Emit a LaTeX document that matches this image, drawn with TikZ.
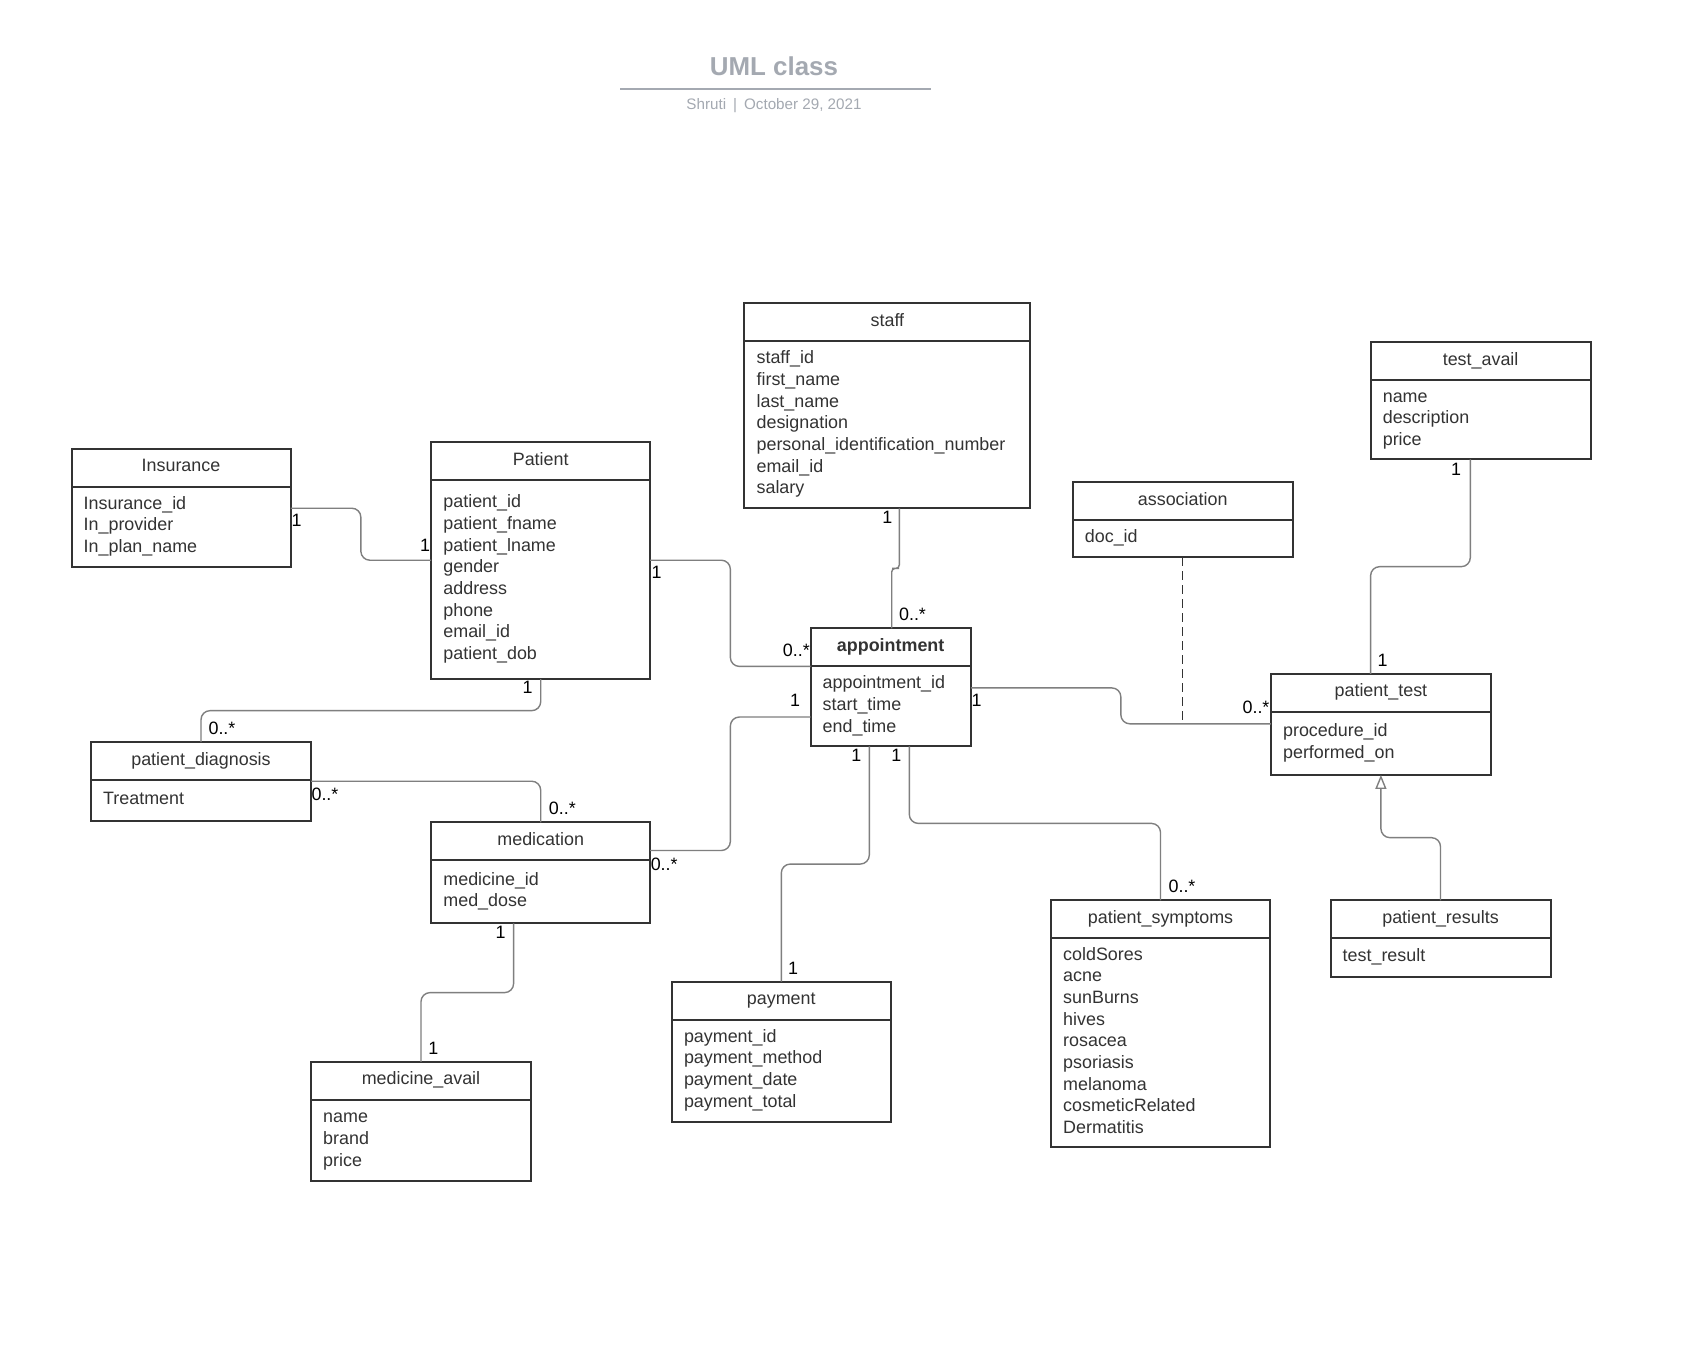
\documentclass[tikz,border=0pt]{standalone}
\usepackage{fontspec}
\setmainfont{Liberation Sans}
\usetikzlibrary{calc,arrows.meta}

\definecolor{boxgray}{HTML}{333333}
\definecolor{linkgray}{HTML}{7F7F7F}
\definecolor{headgray}{HTML}{A4A9B1}

\newcommand{\bodyfont}{\fontsize{17.9}{21.67}\selectfont}

\tikzset{
  classbox/.style={draw=boxgray, line width=2pt, inner sep=0pt, outer sep=0pt, rectangle},
  divider/.style={draw=boxgray, line width=2pt},
  classtitle/.style={text=boxgray, font=\bodyfont, inner sep=0pt, anchor=base},
  classattrs/.style={text=boxgray, font=\bodyfont, align=left, inner sep=0pt, anchor=north west},
  conn/.style={draw=linkgray, line width=1.4pt, rounded corners=9pt},
  assocline/.style={draw=boxgray, line width=1.3pt, dash pattern=on 9pt off 5pt},
  mult/.style={text=black, font=\bodyfont, inner sep=0pt, text height=12.8pt, text depth=0pt},
  doctitle/.style={text=headgray, font=\fontsize{25.9}{30}\selectfont\bfseries, inner sep=0pt},
  docsub/.style={text=headgray, font=\fontsize{15.2}{18}\selectfont, inner sep=0pt},
  headrule/.style={draw=headgray, line width=1.8pt},
  hvh/.style={to path={-| ($(\tikztostart)!0.5!(\tikztotarget)$) |- (\tikztotarget)}},
  vhv/.style={to path={|- ($(\tikztostart)!0.5!(\tikztotarget)$) -| (\tikztotarget)}},
}

% class box: name, left, top, width, height, number of attribute lines, title, attributes
\newcommand{\umlclass}[8]{%
  \node[classbox, minimum width=#4pt, minimum height=#5pt, anchor=north west] (#1) at (#2,#3) {};
  \draw[divider] ($(#1.north west)+(0,38)$) -- ($(#1.north east)+(0,38)$);
  \node[classtitle] (#1-title) at ($(#1.north)+(0,23)$) {#7};
  \node[classattrs] (#1-attrs) at ($(#1.north west)+(12,{38+(#5-38-#6*21.67)/2})$) {\rule{0pt}{14.7pt}#8};
}

\begin{document}
\begin{tikzpicture}[x=1pt, y=-1pt]
\fill[white] (0,0) rectangle (1699,1350);
\useasboundingbox (0,0) rectangle (1699,1350);

% heading
\node[doctitle, anchor=base] (heading) at (774,75.7) {UML class};
\draw[headrule] (620,89) -- (930.7,89);
\node[docsub, anchor=base] (byline) at (774,109) {Shruti\hspace{7pt}|\hspace{7pt}October 29, 2021};

% classes
\umlclass{ins}{71.5}{448.6}{219}{118}{3}{Insurance}{Insurance\_id\\In\_provider\\In\_plan\_name}
\umlclass{pat}{431.2}{442.1}{219}{237}{8}{Patient}{patient\_id\\patient\_fname\\patient\_lname\\gender\\address\\phone\\email\_id\\patient\_dob}
\umlclass{staff}{744.4}{303.4}{286}{205}{7}{staff}{staff\_id\\first\_name\\last\_name\\designation\\personal\_identification\_number\\email\_id\\salary}
\umlclass{tavail}{1370.6}{342.4}{220}{117}{3}{test\_avail}{name\\description\\price}
\umlclass{assoc}{1072.7}{482.2}{220}{75}{1}{association}{doc\_id}
\umlclass{appt}{810.5}{628.4}{160.3}{118}{3}{\bfseries appointment}{appointment\_id\\start\_time\\end\_time}
\umlclass{ptest}{1270.9}{673.9}{220}{101}{2}{patient\_test}{procedure\_id\\performed\_on}
\umlclass{pdiag}{91}{742.2}{220}{79}{1}{patient\_diagnosis}{Treatment}
\umlclass{med}{431.2}{822.4}{219}{101}{2}{medication}{medicine\_id\\med\_dose}
\umlclass{symp}{1051}{900.4}{219}{247}{9}{patient\_symptoms}{coldSores\\acne\\sunBurns\\hives\\rosacea\\psoriasis\\melanoma\\cosmeticRelated\\Dermatitis}
\umlclass{pres}{1330.5}{900.4}{220}{77}{1}{patient\_results}{test\_result}
\umlclass{pay}{671.8}{981.7}{219}{140}{4}{payment}{payment\_id\\payment\_method\\payment\_date\\payment\_total}
\umlclass{mavail}{311}{1061.8}{220}{119}{3}{medicine\_avail}{name\\brand\\price}

% connector end points on the class borders
\coordinate (insR)   at ($(ins.north east)+(0,59.6)$);
\coordinate (patL)   at ($(pat.north west)+(0,118.1)$);
\coordinate (patR)   at ($(pat.north east)+(0,118.1)$);
\coordinate (apptLa) at ($(appt.north west)+(0,38)$);
\coordinate (apptLb) at ($(appt.north west)+(0,88.6)$);
\coordinate (apptR)  at ($(appt.north east)+(0,59.5)$);
\coordinate (apptT)  at ($(appt.north west)+(81.2,0)$);
\coordinate (apptBa) at ($(appt.south west)+(58.8,0)$);
\coordinate (apptBb) at ($(appt.south west)+(98.8,0)$);
\coordinate (staffB) at ($(staff.south west)+(154.9,0)$);
\coordinate (ptestL) at ($(ptest.north west)+(0,49.9)$);
\coordinate (ptestT) at ($(ptest.north west)+(99.7,0)$);
\coordinate (tavailB) at ($(tavail.south west)+(99.7,0)$);
\coordinate (medR)   at ($(med.north east)+(0,28.1)$);
\coordinate (medB)   at ($(med.south west)+(82.4,0)$);
\coordinate (pdiagR) at ($(pdiag.north east)+(0,39)$);

% associations
\draw[conn] (insR) to[hvh] (patL);
\draw[conn] (patR) to[hvh] (apptLa);
\draw[conn, rounded corners=3.5pt] (staffB) to[vhv] (apptT);
\draw[conn] (apptR) to[hvh] (ptestL);
\draw[assocline] (assoc.south) -- (assoc.south |- ptestL);
\draw[conn] (tavailB) to[vhv] (ptestT);
\draw[conn, -{Triangle[open, length=14pt, width=11pt]}] (pres.north) to[vhv] (ptest.south);
\draw[conn] (apptBa) to[vhv] (pay.north);
\draw[conn] (apptBb) to[vhv] (symp.north);
\draw[conn] (apptLb) to[hvh] (medR);
\draw[conn] (pat.south) to[vhv] (pdiag.north);
\draw[conn] (pdiagR) -| (med.north);
\draw[conn] (medB) to[vhv] (mavail.north);

% multiplicities
\node[mult] (m1)  at (296.7,520)   {1};
\node[mult] (m2)  at (425,545)     {1};
\node[mult] (m3)  at (656.6,572)   {1};
\node[mult] (m4)  at (796.4,650)   {0..*};
\node[mult] (m5)  at (887.4,516.8) {1};
\node[mult] (m6)  at (912.5,614.2) {0..*};
\node[mult] (m7)  at (976.5,700)   {1};
\node[mult] (m8)  at (1256,707)    {0..*};
\node[mult] (m9)  at (1456.2,469.2) {1};
\node[mult] (m10) at (1382.6,660)  {1};
\node[mult] (m11) at (856.4,755.2) {1};
\node[mult] (m12) at (896.4,755.2) {1};
\node[mult] (m13) at (793.1,967.6) {1};
\node[mult] (m14) at (1182,886.3)  {0..*};
\node[mult] (m15) at (795.2,700)   {1};
\node[mult] (m16) at (664.2,863.6) {0..*};
\node[mult] (m17) at (527.7,687)   {1};
\node[mult] (m18) at (222,728.1)   {0..*};
\node[mult] (m19) at (325,794.2)   {0..*};
\node[mult] (m20) at (562.3,808.3) {0..*};
\node[mult] (m21) at (500.6,931.8) {1};
\node[mult] (m22) at (433.4,1047.7) {1};
\end{tikzpicture}
\end{document}
